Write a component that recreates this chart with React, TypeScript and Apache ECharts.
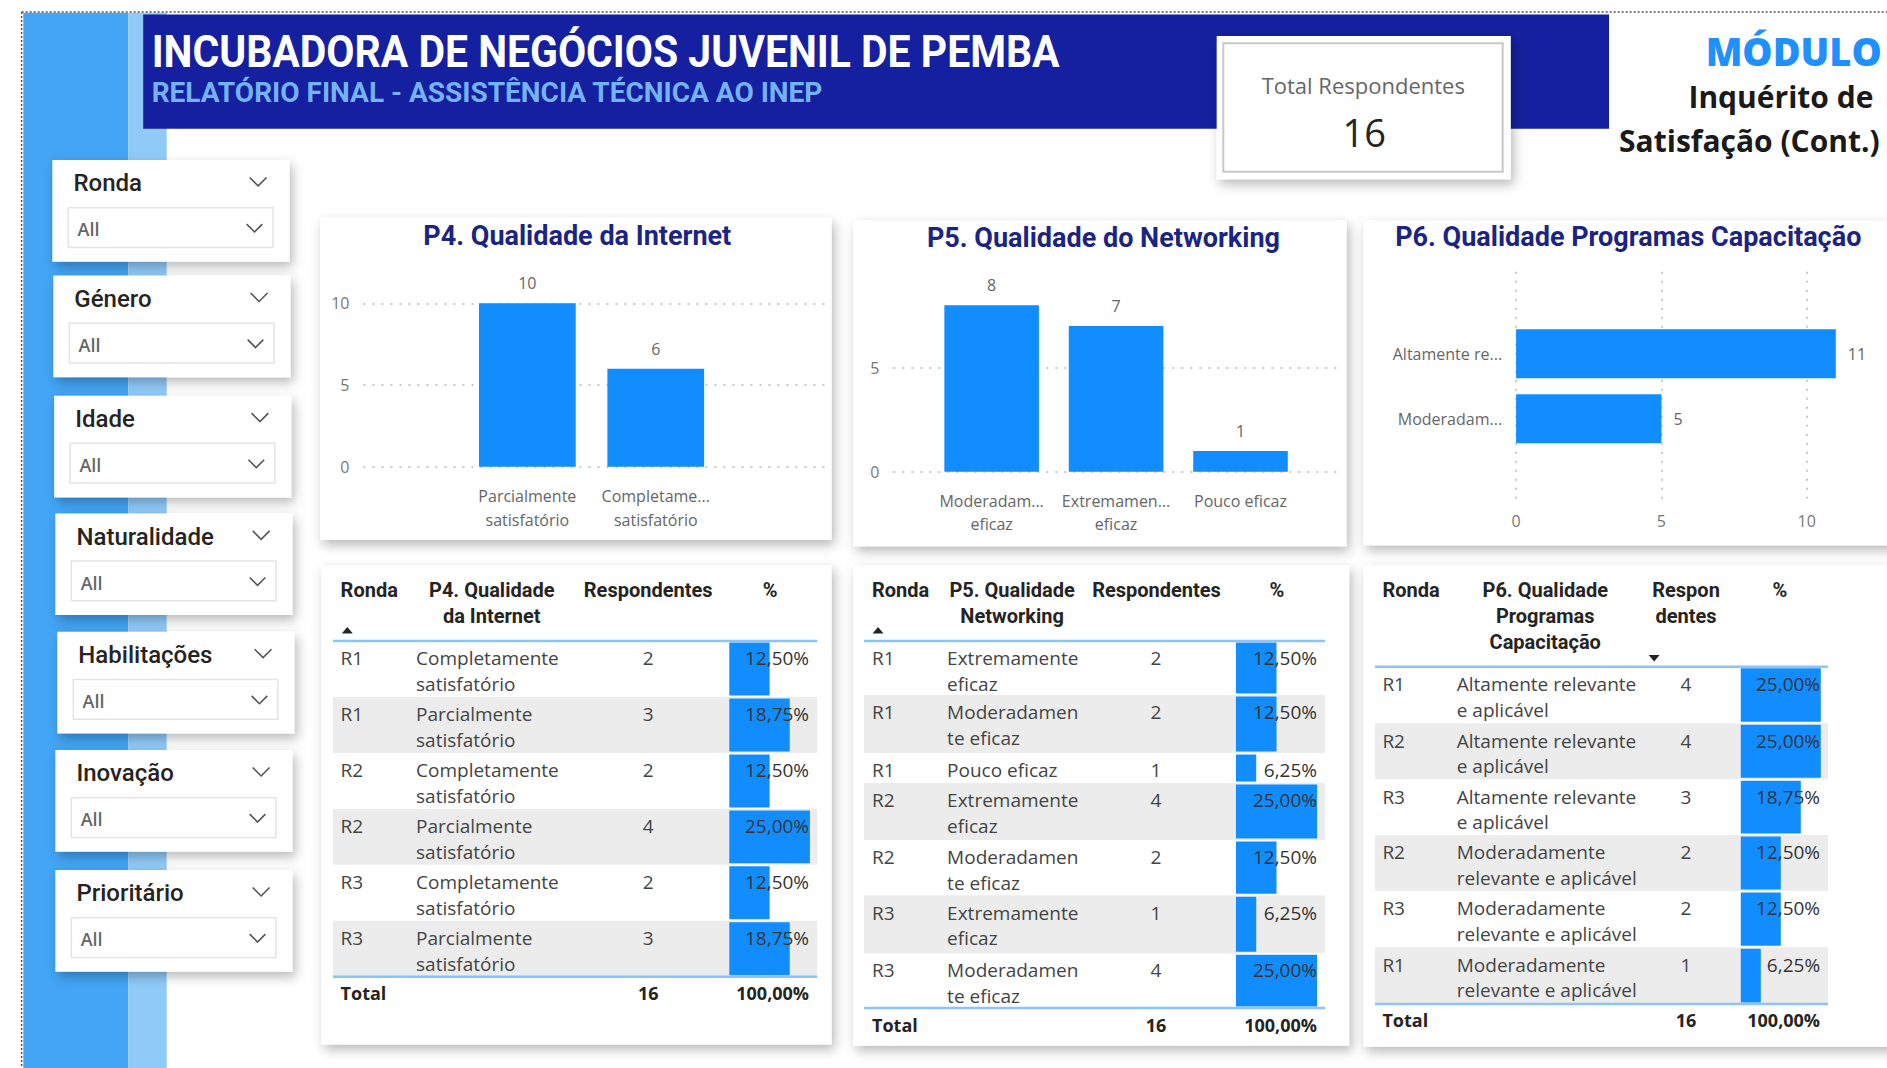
import React, { useEffect, useRef } from "react";
import * as echarts from "echarts";

// ---------------- DATA ----------------
const TOTAL_RESPONDENTES = 16;

const SLICER_TITLES = ["Ronda", "Género", "Idade", "Naturalidade", "Habilitações", "Inovação", "Prioritário"];
const SLICER_VALUE = "All";

const P4_TITLE = "P4. Qualidade da Internet";
const P4_CATEGORIES = ["Parcialmente\nsatisfatório", "Completame...\nsatisfatório"];
const P4_VALUES = [10, 6];

const P5_TITLE = "P5. Qualidade do Networking";
const P5_CATEGORIES = ["Moderadam...\neficaz", "Extremamen...\neficaz", "Pouco eficaz"];
const P5_VALUES = [8, 7, 1];

const P6_TITLE = "P6. Qualidade Programas Capacitação";
const P6_CATEGORIES = ["Altamente re...", "Moderadam..."];
const P6_VALUES = [11, 5];

const T4_HEAD = ["Ronda", "P4. Qualidade\nda Internet", "Respondentes", "%"];
const T4_RONDA = ["R1", "R1", "R2", "R2", "R3", "R3"];
const T4_QUALIDADE = [
  "Completamente\nsatisfatório",
  "Parcialmente\nsatisfatório",
  "Completamente\nsatisfatório",
  "Parcialmente\nsatisfatório",
  "Completamente\nsatisfatório",
  "Parcialmente\nsatisfatório",
];
const T4_RESP = [2, 3, 2, 4, 2, 3];

const T5_HEAD = ["Ronda", "P5. Qualidade\nNetworking", "Respondentes", "%"];
const T5_RONDA = ["R1", "R1", "R1", "R2", "R2", "R3", "R3"];
const T5_QUALIDADE = [
  "Extremamente\neficaz",
  "Moderadamen\nte eficaz",
  "Pouco eficaz",
  "Extremamente\neficaz",
  "Moderadamen\nte eficaz",
  "Extremamente\neficaz",
  "Moderadamen\nte eficaz",
];
const T5_RESP = [2, 2, 1, 4, 2, 1, 4];

const T6_HEAD = ["Ronda", "P6. Qualidade\nProgramas\nCapacitação", "Respon\ndentes", "%"];
const T6_RONDA = ["R1", "R2", "R3", "R2", "R3", "R1"];
const T6_QUALIDADE = [
  "Altamente relevante\ne aplicável",
  "Altamente relevante\ne aplicável",
  "Altamente relevante\ne aplicável",
  "Moderadamente\nrelevante e aplicável",
  "Moderadamente\nrelevante e aplicável",
  "Moderadamente\nrelevante e aplicável",
];
const T6_RESP = [4, 4, 3, 2, 2, 1];

// ---------------- STYLE / LAYOUT ----------------
const K = 1887 / 1568;
const f = (v: number) => v * K;
const BAR_BLUE = "#118DFF";
const FONT_UI = "'Segoe UI', 'Open Sans', sans-serif";
const FONT_DIN = "Roboto, 'DejaVu Sans', sans-serif";
const FONT_BOLD = "'Open Sans', sans-serif";
const TITLE_NAVY = "#1C2483";
const SHADOW = { shadowBlur: 12, shadowOffsetX: 3, shadowOffsetY: 5, shadowColor: "rgba(0,0,0,0.28)" };

const pctText = (v: number) => ((v / TOTAL_RESPONDENTES) * 100).toFixed(2).replace(".", ",") + "%";

function T(x: number, y: number, text: string, size: number, o: any = {}) {
  const align = o.align ?? "left";
  const valign = o.valign ?? "middle";
  const style: any = {
    text,
    x: 0,
    y: 0,
    fill: o.color ?? "#333",
    font: `${o.weight ?? "normal"} ${size}px ${o.family ?? FONT_UI}`,
    textAlign: align,
    textVerticalAlign: valign,
    align,
    verticalAlign: valign,
  };
  if (o.lineHeight) style.lineHeight = o.lineHeight;
  const el: any = { type: "text", x, y, z: o.z ?? 10, style, silent: true };
  if (o.scaleX) el.scaleX = o.scaleX;
  return el;
}

function R(x: number, y: number, w: number, h: number, style: any, z = 1) {
  return { type: "rect", z, silent: true, shape: { x, y, width: w, height: h }, style };
}

function L(x1: number, y1: number, x2: number, y2: number, style: any, z = 3) {
  return { type: "line", z, silent: true, shape: { x1, y1, x2, y2 }, style };
}

function chev(cx: number, cy: number, w: number, h: number) {
  return {
    type: "polyline",
    z: 10,
    silent: true,
    shape: { points: [[cx - w / 2, cy - h / 2], [cx, cy + h / 2], [cx + w / 2, cy - h / 2]] },
    style: { stroke: "#555", lineWidth: 1.6, fill: null },
  };
}

function buildOption() {
  const graphic: any[] = [];
  const grid: any[] = [];
  const xAxis: any[] = [];
  const yAxis: any[] = [];
  const series: any[] = [];

  // ---------- background / frame ----------
  graphic.push(R(f(19.4), f(10.5), f(106.6 - 19.4), 1068, { fill: "#42A5F5" }, 0));
  graphic.push(R(f(106.6), f(10.5), f(138.5 - 106.6), 1068, { fill: "#90CAF9" }, 0));
  graphic.push(L(f(18), f(10), 1887, f(10), { stroke: "#555", lineWidth: 1.5, lineDash: [2, 2] }, 5));
  graphic.push(L(f(18), f(10), f(18), 1068, { stroke: "#555", lineWidth: 1.5, lineDash: [2, 2] }, 5));
  graphic.push(R(f(119), f(12), f(1337 - 119), f(107 - 12), { fill: "#1520A0" }, 1));
  graphic.push(
    T(f(126), f(43), "INCUBADORA DE NEGÓCIOS JUVENIL DE PEMBA", 44, {
      color: "#ffffff", weight: 700, family: FONT_DIN, scaleX: 0.93,
    })
  );
  graphic.push(
    T(f(126), f(77), "RELATÓRIO FINAL - ASSISTÊNCIA TÉCNICA AO INEP", 28, {
      color: "#74B4F6", weight: 700, family: FONT_DIN, scaleX: 1.0,
    })
  );

  // Total Respondentes card
  graphic.push(R(f(1011), f(30), f(244.4), f(119), { fill: "#fff", ...SHADOW }, 2));
  graphic.push(R(1223.3, 43.3, 279.4, 128.4, { fill: "#fff", stroke: "#C8C8C8", lineWidth: 2 }, 3));
  graphic.push(T(1363.3, 85, "Total Respondentes", 22, { color: "#666", align: "center" }));
  graphic.push(T(1364.3, 131.7, String(TOTAL_RESPONDENTES), 38, { color: "#252423", align: "center" }));

  // Module text
  graphic.push(T(f(1563.6), f(42), "MÓDULO", 38, { color: "#1E90FF", weight: 800, family: FONT_BOLD, align: "right" }));
  graphic.push(T(f(1556.7), f(80), "Inquérito de", 30, { color: "#1a1a1a", weight: 700, family: FONT_BOLD, align: "right" }));
  graphic.push(T(f(1562), f(117), "Satisfação (Cont.)", 30, { color: "#1a1a1a", weight: 700, family: FONT_BOLD, align: "right" }));

  // ---------- slicers ----------
  const slLeft = [43.5, 44.3, 45, 46, 47.6, 46, 46];
  const slTop = [133, 229, 328.8, 426.6, 525, 623.3, 723];
  SLICER_TITLES.forEach((title, i) => {
    const Lx = slLeft[i];
    const Ty = slTop[i];
    graphic.push(R(f(Lx), f(Ty), f(197), f(84.5), { fill: "#fff", ...SHADOW }, 1));
    graphic.push(T(f(Lx + 17.5), f(Ty + 19.3), title, 24, { color: "#252423", weight: 500, family: FONT_DIN }));
    graphic.push(chev(f(Lx + 171), f(Ty + 18), f(14), f(7)));
    graphic.push(R(f(Lx + 13.3), f(Ty + 39.6), f(170), f(33), { fill: "#fff", stroke: "#E4E4E4", lineWidth: 1.5 }, 3));
    graphic.push(T(f(Lx + 21), f(Ty + 57.5), SLICER_VALUE, 18, { color: "#666", weight: 600 }));
    graphic.push(chev(f(Lx + 168), f(Ty + 56.5), f(13), f(6.5)));
  });

  // ---------- chart cards ----------
  graphic.push(R(f(266), f(181), f(691 - 266), f(448.7 - 181), { fill: "#fff", ...SHADOW }, 1));
  graphic.push(R(f(709), f(183), f(1119 - 709), f(454 - 183), { fill: "#fff", ...SHADOW }, 1));
  graphic.push(R(f(1133), f(183), 900, f(453 - 183), { fill: "#fff", ...SHADOW }, 1));
  graphic.push(T(f(479.7), f(196), P4_TITLE, 27, { color: TITLE_NAVY, weight: 700, family: FONT_DIN, align: "center" }));
  graphic.push(T(f(916.9), f(198), P5_TITLE, 27, { color: TITLE_NAVY, weight: 700, family: FONT_DIN, align: "center" }));
  graphic.push(T(f(1353), f(196.7), P6_TITLE, 27, { color: TITLE_NAVY, weight: 700, family: FONT_DIN, align: "center" }));

  const dotted = { type: [2, 7], color: "#C8C8C8", width: 2 };
  const axLabel = { color: "#777", fontSize: 16, fontFamily: FONT_UI };

  const addGrid = (g: any) => {
    grid.push({ ...g, containLabel: false });
    return grid.length - 1;
  };

  // P4 background (axis + gridlines)
  {
    const gi = addGrid({ left: f(302), top: f(252), width: f(685.6 - 302), height: f(387.8 - 252) });
    xAxis.push({ gridIndex: gi, type: "category", data: [""], show: false });
    yAxis.push({
      gridIndex: gi, type: "value", min: 0, max: 10, interval: 5, z: 4,
      axisLine: { show: false }, axisTick: { show: false },
      axisLabel: { ...axLabel, margin: 14 }, splitLine: { show: true, lineStyle: dotted },
    });
  }
  // P4 bars
  {
    const gi = addGrid({ left: f(384.85), top: f(252), width: f(213.4), height: f(387.8 - 252) });
    xAxis.push({
      gridIndex: gi, type: "category", data: P4_CATEGORIES, z: 4,
      axisLine: { show: false }, axisTick: { show: false },
      axisLabel: { color: "#666", fontSize: 16, fontFamily: FONT_UI, lineHeight: 24, margin: 17, interval: 0 },
    });
    yAxis.push({ gridIndex: gi, type: "value", min: 0, max: 10, show: false, splitLine: { show: false } });
    series.push({
      type: "bar", xAxisIndex: xAxis.length - 1, yAxisIndex: yAxis.length - 1, z: 5,
      data: P4_VALUES, barWidth: f(80.4), itemStyle: { color: BAR_BLUE },
      label: { show: true, position: "top", distance: 12, color: "#666", fontSize: 16, fontFamily: FONT_UI },
    });
  }

  // P5 background
  {
    const gi = addGrid({ left: f(742.3), top: f(305.5), width: f(1113.5 - 742.3), height: f(392 - 305.5) });
    xAxis.push({ gridIndex: gi, type: "category", data: [""], show: false });
    yAxis.push({
      gridIndex: gi, type: "value", min: 0, max: 5, interval: 5, z: 4,
      axisLine: { show: false }, axisTick: { show: false },
      axisLabel: { ...axLabel, margin: 14 }, splitLine: { show: true, lineStyle: dotted },
    });
  }
  // P5 bars
  {
    const unit = (392 - 305.5) / 5;
    const gi = addGrid({ left: f(772.3), top: f(392 - 8 * unit), width: f(310.2), height: f(8 * unit) });
    xAxis.push({
      gridIndex: gi, type: "category", data: P5_CATEGORIES, z: 4,
      axisLine: { show: false }, axisTick: { show: false },
      axisLabel: { color: "#666", fontSize: 16, fontFamily: FONT_UI, lineHeight: 23, margin: 18, interval: 0 },
    });
    yAxis.push({ gridIndex: gi, type: "value", min: 0, max: 8, show: false, splitLine: { show: false } });
    series.push({
      type: "bar", xAxisIndex: xAxis.length - 1, yAxisIndex: yAxis.length - 1, z: 5,
      data: P5_VALUES, barWidth: f(78.6), itemStyle: { color: BAR_BLUE },
      label: { show: true, position: "top", distance: 12, color: "#666", fontSize: 16, fontFamily: FONT_UI },
    });
  }

  // P6 background
  {
    const gi = addGrid({ left: f(1259.8), top: f(225.8), width: f(1501.3 - 1259.8), height: f(418.3 - 225.8) });
    yAxis.push({ gridIndex: gi, type: "category", data: [""], show: false });
    xAxis.push({
      gridIndex: gi, type: "value", min: 0, max: 10, interval: 5, z: 4,
      axisLine: { show: false }, axisTick: { show: false },
      axisLabel: { ...axLabel, margin: 10 }, splitLine: { show: true, lineStyle: dotted },
    });
  }
  // P6 bars
  {
    const unit = (1501.3 - 1259.8) / 10;
    const gi = addGrid({ left: f(1259.8), top: f(267), width: f(11 * unit), height: f(108) });
    xAxis.push({ gridIndex: gi, type: "value", min: 0, max: 11, show: false, splitLine: { show: false } });
    yAxis.push({
      gridIndex: gi, type: "category", data: P6_CATEGORIES, inverse: true, z: 4,
      axisLine: { show: false }, axisTick: { show: false },
      axisLabel: { color: "#666", fontSize: 16, fontFamily: FONT_UI, margin: 14 },
    });
    series.push({
      type: "bar", xAxisIndex: xAxis.length - 1, yAxisIndex: yAxis.length - 1, z: 5,
      data: P6_VALUES, barWidth: f(40.7), itemStyle: { color: BAR_BLUE },
      label: { show: true, position: "right", distance: 12, color: "#666", fontSize: 16, fontFamily: FONT_UI },
    });
  }

  // ---------- tables ----------
  type TableCfg = {
    card: number[];
    left: number; right: number; headerLine: number;
    rowTops: number[]; bottom: number;
    ronda: number; qual: number; respC: number; pctR: number; barX: number; barW: number;
    hRonda: number; hQual: number; hResp: number; hPct: number; hY: number;
    arrow: { x: number; y: number; up: boolean };
    totalY: number;
    head: string[]; rRonda: string[]; rQual: string[]; rResp: number[];
  };

  const buildTable = (c: TableCfg) => {
    graphic.push(R(f(c.card[0]), f(c.card[1]), f(c.card[2]), f(c.card[3]), { fill: "#fff", ...SHADOW }, 1));
    const lh = 26;
    const hy = f(c.hY) - lh / 2;
    const hopt = { color: "#252423", weight: 700, family: FONT_DIN, valign: "top", lineHeight: lh };
    graphic.push(T(f(c.hRonda), hy, c.head[0], 20, hopt));
    graphic.push(T(f(c.hQual), hy, c.head[1], 20, { ...hopt, align: "center" }));
    graphic.push(T(f(c.hResp), hy, c.head[2], 20, { ...hopt, align: "center" }));
    graphic.push(T(f(c.hPct), hy, c.head[3], 20, { ...hopt, align: "center" }));
    const ax = f(c.arrow.x), ay = f(c.arrow.y);
    graphic.push({
      type: "polygon", z: 10, silent: true,
      shape: {
        points: c.arrow.up
          ? [[ax - 5.5, ay + 3], [ax + 5.5, ay + 3], [ax, ay - 3.5]]
          : [[ax - 5.5, ay - 3], [ax + 5.5, ay - 3], [ax, ay + 3.5]],
      },
      style: { fill: "#252423" },
    });

    const rowLH = f(21.3);
    c.rRonda.forEach((rd, i) => {
      const top = c.rowTops[i];
      const bot = i + 1 < c.rowTops.length ? c.rowTops[i + 1] : c.bottom;
      if (i % 2 === 1) {
        graphic.push(R(f(c.left), f(top), f(c.right - c.left), f(bot - top), { fill: "#ECECEC" }, 2));
      }
      const ty = f(top + 14.4) - rowLH / 2;
      const bopt = { color: "#444", valign: "top", lineHeight: rowLH };
      graphic.push(T(f(c.ronda), ty, rd, 19, bopt));
      graphic.push(T(f(c.qual), ty, c.rQual[i], 19, bopt));
      graphic.push(T(f(c.respC), ty, String(c.rResp[i]), 19, { ...bopt, align: "center" }));
      graphic.push(T(f(c.pctR), ty, pctText(c.rResp[i]), 19, { ...bopt, color: "#333", align: "right" }));

      // data bar for the row
      const gi = addGrid({ left: f(c.barX), width: f(c.barW), top: f(top) + 1.5, height: f(bot - top) - 3 });
      xAxis.push({ gridIndex: gi, type: "value", min: 0, max: 25, show: false, splitLine: { show: false } });
      yAxis.push({ gridIndex: gi, type: "category", data: [""], show: false });
      series.push({
        type: "bar", xAxisIndex: xAxis.length - 1, yAxisIndex: yAxis.length - 1, z: 5, silent: true,
        data: [(c.rResp[i] / TOTAL_RESPONDENTES) * 100], barWidth: "100%", itemStyle: { color: BAR_BLUE },
      });
    });

    const lineStyle = { stroke: "#8CC4F5", lineWidth: 2.5 };
    graphic.push(L(f(c.left), f(c.headerLine), f(c.right), f(c.headerLine), lineStyle, 6));
    graphic.push(L(f(c.left), f(c.bottom), f(c.right), f(c.bottom), lineStyle, 6));

    const total = c.rResp.reduce((a, b) => a + b, 0);
    const topt = { color: "#252423", weight: 700, family: FONT_BOLD };
    graphic.push(T(f(c.ronda), f(c.totalY), "Total", 18, topt));
    graphic.push(T(f(c.respC), f(c.totalY), String(total), 18, { ...topt, align: "center" }));
    graphic.push(T(f(c.pctR), f(c.totalY), pctText(total), 18, { ...topt, align: "right" }));
  };

  buildTable({
    card: [267, 469.5, 424, 398.5],
    left: 276.7, right: 679, headerLine: 532.7,
    rowTops: T4_RONDA.map((_, i) => 532.7 + i * 46.48), bottom: 811.6,
    ronda: 283, qual: 345.7, respC: 538.6, pctR: 672.3, barX: 606, barW: 67,
    hRonda: 283, hQual: 408.6, hResp: 538.6, hPct: 640, hY: 490,
    arrow: { x: 288.6, y: 524, up: true },
    totalY: 825,
    head: T4_HEAD, rRonda: T4_RONDA, rQual: T4_QUALIDADE, rResp: T4_RESP,
  });

  buildTable({
    card: [709, 470, 412, 399],
    left: 718, right: 1101, headerLine: 532.7,
    rowTops: [532.7, 577.5, 625.7, 650.7, 698, 744, 792], bottom: 837.6,
    ronda: 724.6, qual: 787, respC: 960.6, pctR: 1094.4, barX: 1027, barW: 67.4,
    hRonda: 724.6, hQual: 841, hResp: 961, hPct: 1061, hY: 490,
    arrow: { x: 729.6, y: 524, up: true },
    totalY: 851.7,
    head: T5_HEAD, rRonda: T5_RONDA, rQual: T5_QUALIDADE, rResp: T5_RESP,
  });

  buildTable({
    card: [1133, 470, 800, 399.7],
    left: 1142.6, right: 1519, headerLine: 554,
    rowTops: [554, 601, 647.6, 693.9, 740.4, 787.2], bottom: 834.3,
    ronda: 1148.7, qual: 1210.5, respC: 1401, pctR: 1512.4, barX: 1446.5, barW: 66.5,
    hRonda: 1148.7, hQual: 1284, hResp: 1401, hPct: 1479, hY: 490.3,
    arrow: { x: 1374.5, y: 546.8, up: false },
    totalY: 847.6,
    head: T6_HEAD, rRonda: T6_RONDA, rQual: T6_QUALIDADE, rResp: T6_RESP,
  });

  return {
    animation: false,
    backgroundColor: "#ffffff",
    grid,
    xAxis,
    yAxis,
    series,
    graphic: { elements: graphic },
  };
}

export default function App() {
  const ref = useRef<HTMLDivElement>(null);
  useEffect(() => {
    if (!ref.current) return;
    const chart = echarts.init(ref.current, null, { renderer: "svg" });
    chart.setOption(buildOption() as any);
    return () => chart.dispose();
  }, []);
  return (
    <div
      ref={ref}
      style={{ position: "absolute", left: 0, top: 0, width: 1887, height: 1068, background: "#fff" }}
    />
  );
}
